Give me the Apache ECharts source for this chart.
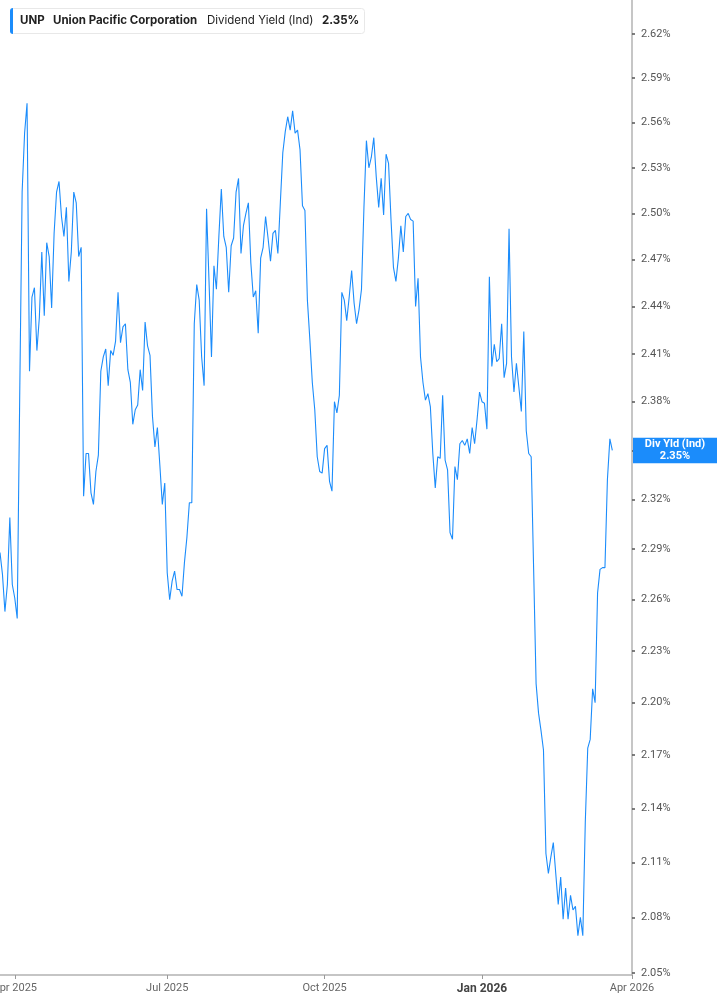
<!DOCTYPE html>
<html><head><meta charset="utf-8">
<script src="https://cdn.jsdelivr.net/npm/echarts@6/dist/echarts.min.js"></script>
<style>html,body{margin:0;padding:0;background:#fff}#c{width:717px;height:1005px}</style>
</head><body><div id="c"></div>
<script>
// Trading-day calendar (categories)
const calendarStart = '2025-03-24';
const calendarEnd = '2026-04-01';
const marketHolidays = ['2025-04-18','2025-05-26','2025-06-19','2025-07-04','2025-09-01','2025-11-27','2025-12-25','2026-01-01','2026-01-19','2026-02-16'];

// UNP dividend yield (%), one value per trading day from 2025-03-24 to 2026-03-20
const yieldValues = [
2.288,2.275,2.253,2.269,2.309,2.269,2.261,2.249,2.381,2.514,
2.553,2.573,2.399,2.446,2.452,2.412,2.433,2.475,2.434,2.481,
2.472,2.439,2.487,2.514,2.521,2.498,2.485,2.504,2.456,2.475,
2.514,2.507,2.472,2.478,2.322,2.348,2.348,2.324,2.317,2.337,
2.347,2.399,2.408,2.413,2.390,2.412,2.409,2.418,2.449,2.417,
2.427,2.429,2.400,2.392,2.366,2.375,2.378,2.400,2.387,2.430,
2.415,2.409,2.371,2.352,2.364,2.341,2.317,2.330,2.276,2.260,
2.271,2.277,2.266,2.266,2.262,2.282,2.297,2.318,2.318,2.429,
2.454,2.444,2.408,2.390,2.503,2.456,2.408,2.466,2.451,2.485,
2.516,2.485,2.478,2.449,2.479,2.484,2.514,2.523,2.474,2.492,
2.500,2.507,2.468,2.446,2.450,2.423,2.471,2.478,2.498,2.484,
2.469,2.487,2.489,2.474,2.507,2.540,2.554,2.564,2.555,2.568,
2.553,2.555,2.542,2.505,2.502,2.444,2.419,2.392,2.375,2.346,
2.337,2.336,2.351,2.353,2.331,2.325,2.380,2.373,2.384,2.449,
2.444,2.431,2.446,2.463,2.442,2.429,2.438,2.451,2.504,2.548,
2.530,2.537,2.550,2.524,2.504,2.523,2.499,2.539,2.533,2.496,
2.465,2.456,2.471,2.492,2.475,2.498,2.500,2.496,2.495,2.440,
2.458,2.408,2.392,2.381,2.385,2.377,2.348,2.327,2.346,2.345,
2.384,2.344,2.338,2.300,2.296,2.340,2.332,2.354,2.356,2.353,
2.357,2.348,2.364,2.354,2.369,2.386,2.380,2.379,2.363,2.459,
2.402,2.416,2.405,2.407,2.429,2.395,2.404,2.490,2.408,2.386,
2.404,2.389,2.374,2.424,2.362,2.348,2.346,2.278,2.211,2.194,
2.184,2.173,2.115,2.104,2.113,2.121,2.104,2.087,2.102,2.079,
2.096,2.079,2.092,2.084,2.086,2.070,2.080,2.070,2.132,2.174,
2.179,2.208,2.200,2.264,2.278,2.279,2.279,2.332,2.357,2.350
];

// Y-axis tick labels (%)
const yTicks = [2.05,2.08,2.11,2.14,2.17,2.20,2.23,2.26,2.29,2.32,2.35,2.38,2.41,2.44,2.47,2.50,2.53,2.56,2.59,2.62];
const yMin = 2.0489, yMax = 2.6434;
const monthNames = ['Jan','Feb','Mar','Apr','May','Jun','Jul','Aug','Sep','Oct','Nov','Dec'];
const quarterMonths = [0,3,6,9];

const tickerText = 'UNP';
const companyText = 'Union Pacific Corporation';
const metricText = 'Dividend Yield (Ind)';
const tagTitle = 'Div Yld (Ind)';

// build trading-day categories
const tradingDays = [];
(function(){
  const d = new Date(calendarStart + 'T00:00:00Z');
  const end = new Date(calendarEnd + 'T00:00:00Z');
  while (d <= end) {
    const s = d.toISOString().slice(0,10);
    const wd = d.getUTCDay();
    if (wd !== 0 && wd !== 6 && marketHolidays.indexOf(s) < 0) tradingDays.push(s);
    d.setUTCDate(d.getUTCDate() + 1);
  }
})();
const seriesData = tradingDays.map((d, i) => i < yieldValues.length ? yieldValues[i] : null);

function isQuarterStart(index) {
  const cur = tradingDays[index];
  const m = +cur.slice(5,7) - 1;
  if (quarterMonths.indexOf(m) < 0) return false;
  if (index === 0) return false;
  return tradingDays[index-1].slice(5,7) !== cur.slice(5,7);
}
function fmtDate(v) {
  const m = +v.slice(5,7) - 1;
  const t = monthNames[m] + ' ' + v.slice(0,4);
  return m === 0 ? '{b|' + t + '}' : t;
}

const LINE = '#1b8cfb';
const chart = echarts.init(document.getElementById('c'), null, {renderer: 'canvas'});
const lastVal = yieldValues[yieldValues.length - 1];

chart.setOption({
  animation: false,
  backgroundColor: '#fff',
  grid: {left: 0, right: 85, top: 0, bottom: 30, containLabel: false, outerBoundsMode: 'none'},
  xAxis: {
    type: 'category', data: tradingDays, boundaryGap: false,
    axisLine: {show: true, lineStyle: {color: '#b3b3b3', width: 1.5}},
    axisTick: {show: true, interval: isQuarterStart, length: 4, lineStyle: {color: '#999', width: 1}},
    axisLabel: {interval: isQuarterStart, formatter: fmtDate, color: '#666', fontSize: 11, fontFamily: 'Roboto', margin: 8, hideOverlap: false,
      rich: {b: {fontWeight: 'bold', color: '#444', fontSize: 12, fontFamily: 'Roboto'}}},
    splitLine: {show: false}
  },
  yAxis: {
    type: 'log', logBase: 10, position: 'right', min: yMin, max: yMax,
    axisLine: {show: true, lineStyle: {color: '#b3b3b3', width: 1.5}},
    axisTick: {show: true, customValues: yTicks, length: 3, inside: false, lineStyle: {color: '#555', width: 1.5}},
    axisLabel: {customValues: yTicks, formatter: v => (+v).toFixed(2) + '%', color: '#555', fontSize: 11, fontFamily: 'Roboto', margin: 9},
    splitLine: {show: false}
  },
  series: [{
    type: 'line', data: seriesData, showSymbol: false, symbol: 'none',
    lineStyle: {color: LINE, width: 1.1}, clip: true
  }]
});

const yPix = chart.convertToPixel({yAxisIndex: 0}, lastVal);
const xAxisRight = chart.getWidth() - 85;
chart.setOption({
  graphic: [
    {type: 'group', x: 0, y: 0, children: [
      {type: 'rect', z: 50, shape: {x: 10.5, y: 8.5, width: 354, height: 25, r: 3}, style: {fill: '#fff', stroke: '#e8e8e8', lineWidth: 1}},
      {type: 'rect', z: 51, shape: {x: 10, y: 8, width: 3, height: 26, r: [3,0,0,3]}, style: {fill: LINE}},
      {type: 'text', z: 52, x: 20, y: 21, style: {text: tickerText, font: 'bold 11.5px Inter', fill: '#222', verticalAlign: 'middle'}},
      {type: 'text', z: 52, x: 53, y: 21, style: {text: companyText, font: 'bold 11.5px Inter', fill: '#222', verticalAlign: 'middle'}},
      {type: 'text', z: 52, x: 207, y: 21, style: {text: metricText, font: '11.5px Inter', fill: '#222', verticalAlign: 'middle'}},
      {type: 'text', z: 52, x: 322, y: 21, style: {text: lastVal.toFixed(2) + '%', font: 'bold 11.5px Inter', fill: '#222', verticalAlign: 'middle'}}
    ]},
    {type: 'group', x: 0, y: 0, children: [
      {type: 'rect', z: 200, zlevel: 1, shape: {x: xAxisRight + 1, y: yPix - 12.5, width: 85, height: 25.5}, style: {fill: LINE}},
      {type: 'text', z: 201, zlevel: 1, x: xAxisRight + 43, y: yPix - 6, style: {text: tagTitle, font: 'bold 11px Roboto', fill: '#fff', align: 'center', verticalAlign: 'middle'}},
      {type: 'text', z: 201, zlevel: 1, x: xAxisRight + 43, y: yPix + 6, style: {text: lastVal.toFixed(2) + '%', font: 'bold 11px Roboto', fill: '#fff', align: 'center', verticalAlign: 'middle'}}
    ]}
  ]
});
</script>
</body></html>
